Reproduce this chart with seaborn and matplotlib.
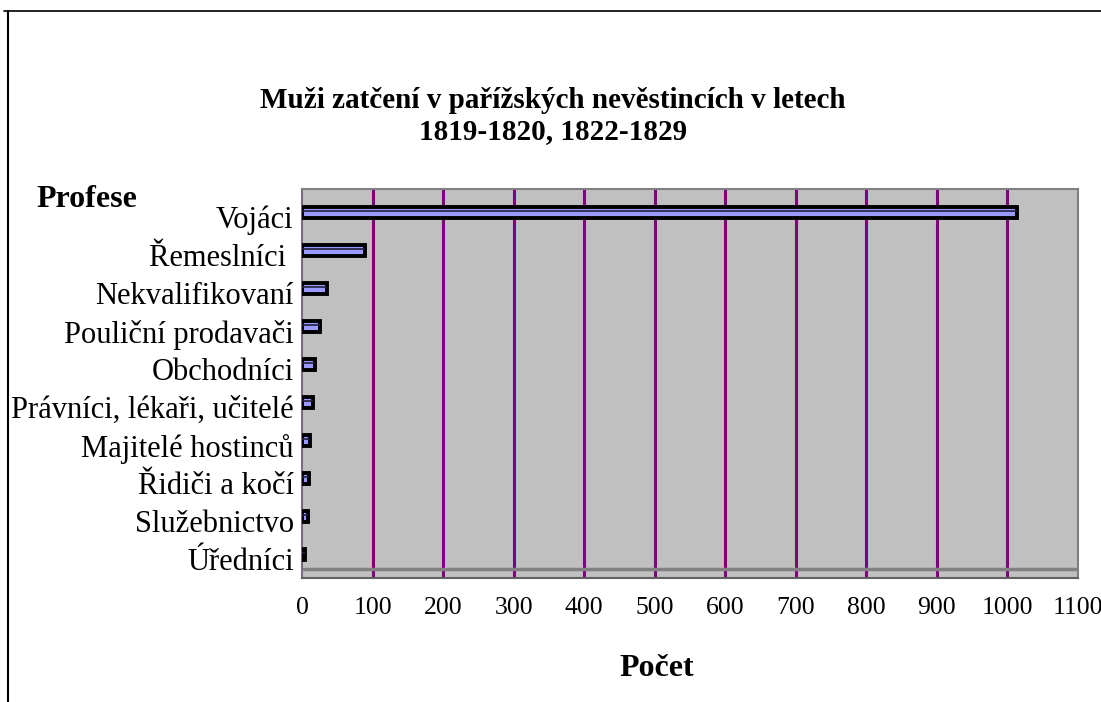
import matplotlib
matplotlib.use('Agg')
from matplotlib import pyplot as plt
from matplotlib.lines import Line2D
import numpy as np
import pandas as pd
import seaborn as sns

professions = ['Vojáci', 'Řemeslníci ', 'Nekvalifikovaní', 'Pouliční prodavači',
               'Obchodníci', 'Právníci, lékaři, učitelé', 'Majitelé hostinců',
               'Řidiči a kočí', 'Služebnictvo', 'Úředníci']
counts = [1013, 90, 36, 26, 19, 15, 12, 10, 9, 4]
x_ticks = list(range(0, 1101, 100))

title = 'Muži zatčení v pařížských nevěstincích v letech\n1819-1820, 1822-1829'

sns.set_style('white')
plt.rcParams['font.family'] = ['Liberation Serif', 'DejaVu Serif']
plt.rcParams['text.color'] = 'black'
plt.rcParams['xtick.color'] = 'black'
plt.rcParams['ytick.color'] = 'black'

W, H = 1101, 702
fig = plt.figure(figsize=(W / 100, H / 100), dpi=100)
left, right, top, bottom = 302, 1078, 189, 578
ax = fig.add_axes([left / W, (H - bottom) / H, (right - left) / W, (bottom - top) / H])
ax.set_facecolor('#C0C0C0')

data = pd.DataFrame({'Profese': professions, 'Počet': counts})
sns.barplot(data=data, x='Počet', y='Profese', orient='h', ax=ax,
            color='#9999FF', saturation=1, width=0.29,
            edgecolor='black', linewidth=2.8, zorder=3)
for p in ax.patches:
  p.set_y(p.get_y() - 0.12)
  # thin dark inner line, like the double outline in the original
  yy = p.get_y() + p.get_height() * 0.36
  ax.plot([p.get_x(), p.get_x() + p.get_width()], [yy, yy],
          color='#202040', lw=1.2, zorder=4, solid_capstyle='butt')

n = len(professions)
extra = 9 / 38
ax.set_ylim(n - 0.5, -0.5 - extra)
ax.set_xlim(0, 1100)
ax.set_xticks(x_ticks)
ax.set_xticklabels([str(v) for v in x_ticks], fontsize=18.5)
for v in x_ticks[1:-1]:
  ax.axvline(v, color='#800080', lw=2.2, zorder=1)
ax.axhline(n - 0.5 - extra, color='#808080', lw=2.5, zorder=2)

ax.set_yticks(range(n))
ax.set_yticklabels(professions, fontsize=22)
ax.set_yticks(np.arange(-0.5, n, 1.0), minor=True)
ax.tick_params(axis='y', which='major', length=0, pad=6)
ax.tick_params(axis='y', which='minor', length=6, width=1.2, color='#404040', direction='out')
ax.tick_params(axis='x', which='major', length=6, width=1.2, color='#404040',
               direction='out', pad=8, labelcolor='black')
ax.set_xlabel('')
ax.set_ylabel('')
for s in ax.spines.values():
  s.set_color('#808080')
  s.set_linewidth(1.5)
ax.spines['left'].set_color('#806888')
ax.spines['bottom'].set_color('#606060')

fig.text(553 / W, 1 - 116 / H, title, ha='center', va='center', fontsize=21,
         fontweight='bold', linespacing=1.15)
fig.text(36 / W, 1 - 200 / H, 'Profese', ha='left', va='center', fontsize=23,
         fontweight='bold')
fig.text(657 / W, 1 - 668 / H, 'Počet', ha='center', va='center', fontsize=23,
         fontweight='bold')

fig.add_artist(Line2D([4 / W, 1], [1 - 11 / H, 1 - 11 / H], color='black', lw=1.2,
                      transform=fig.transFigure))
fig.add_artist(Line2D([8 / W, 8 / W], [1 - 11 / H, 0], color='black', lw=1.5,
                      transform=fig.transFigure))

plt.savefig('out.png', dpi=100)
plt.close('all')
